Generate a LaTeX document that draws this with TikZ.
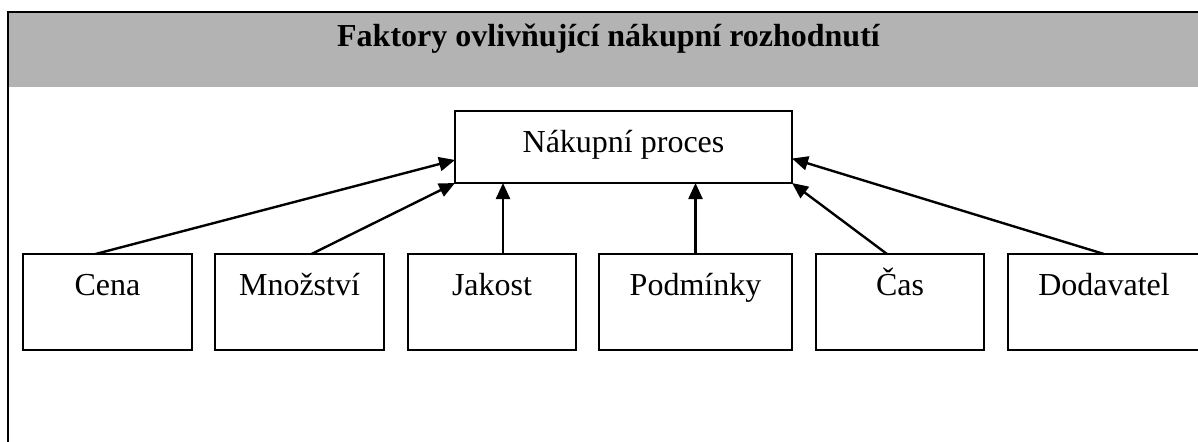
\documentclass[tikz,border=0pt]{standalone}
\usepackage{fontspec}
\setmainfont{Liberation Serif}
\usepackage{tikz}
\usetikzlibrary{arrows.meta,positioning,calc}
\definecolor{bandGray}{HTML}{B3B3B3}

\begin{document}
\begin{tikzpicture}[x=0.5pt,y=-0.5pt,font=\fontsize{16}{19}\selectfont,
   factor/.style={draw,line width=0.9pt,inner sep=0pt,outer sep=0pt,
                  text height=20.5pt,text depth=27.5pt,align=center},
   link/.style={line width=1.2pt,-{Triangle[length=8pt,width=7pt]}}]
  \useasboundingbox (0,0) rectangle (1198,441);
  \clip (0,0) rectangle (1198,441);
  \fill[bandGray] (8,12) rectangle (1230,87);
  \draw[line width=1.2pt] (8,480) -- (8,12) -- (1230,12);
  \node[font=\fontsize{16}{19}\selectfont\bfseries,anchor=base] (title) at (608.5,46)
    {Faktory ovlivňující nákupní rozhodnutí};
  \node[factor,minimum width=168.5pt,text depth=15.5pt,anchor=north west] (proc) at (455,111)
    {Nákupní proces};
  \node[factor,minimum width=84.5pt,anchor=north west] (cena) at (23,254) {Cena};
  \node[factor,minimum width=84.5pt,right=11.5pt of cena] (mnozstvi) {Množství};
  \node[factor,minimum width=84pt,right=12pt of mnozstvi] (jakost) {Jakost};
  \node[factor,minimum width=96.5pt,right=11.5pt of jakost] (podminky) {Podmínky};
  \node[factor,minimum width=84pt,right=12pt of podminky] (cas) {Čas};
  \node[factor,minimum width=96pt,right=12pt of cas] (dodavatel) {Dodavatel};
  \draw[link] ([xshift=-6pt]cena.north) -- ($(proc.south west)!0.32!(proc.north west)$);
  \draw[link] ([xshift=6pt]mnozstvi.north) -- (proc.south west);
  \draw[link] ([xshift=5.5pt]jakost.north) -- ([xshift=5.5pt]jakost.north |- proc.south);
  \draw[link] (podminky.north) -- (podminky.north |- proc.south);
  \draw[link] ([xshift=-6.5pt]cas.north) -- (proc.south east);
  \draw[link] (dodavatel.north) -- ($(proc.south east)!0.34!(proc.north east)$);
\end{tikzpicture}
\end{document}
